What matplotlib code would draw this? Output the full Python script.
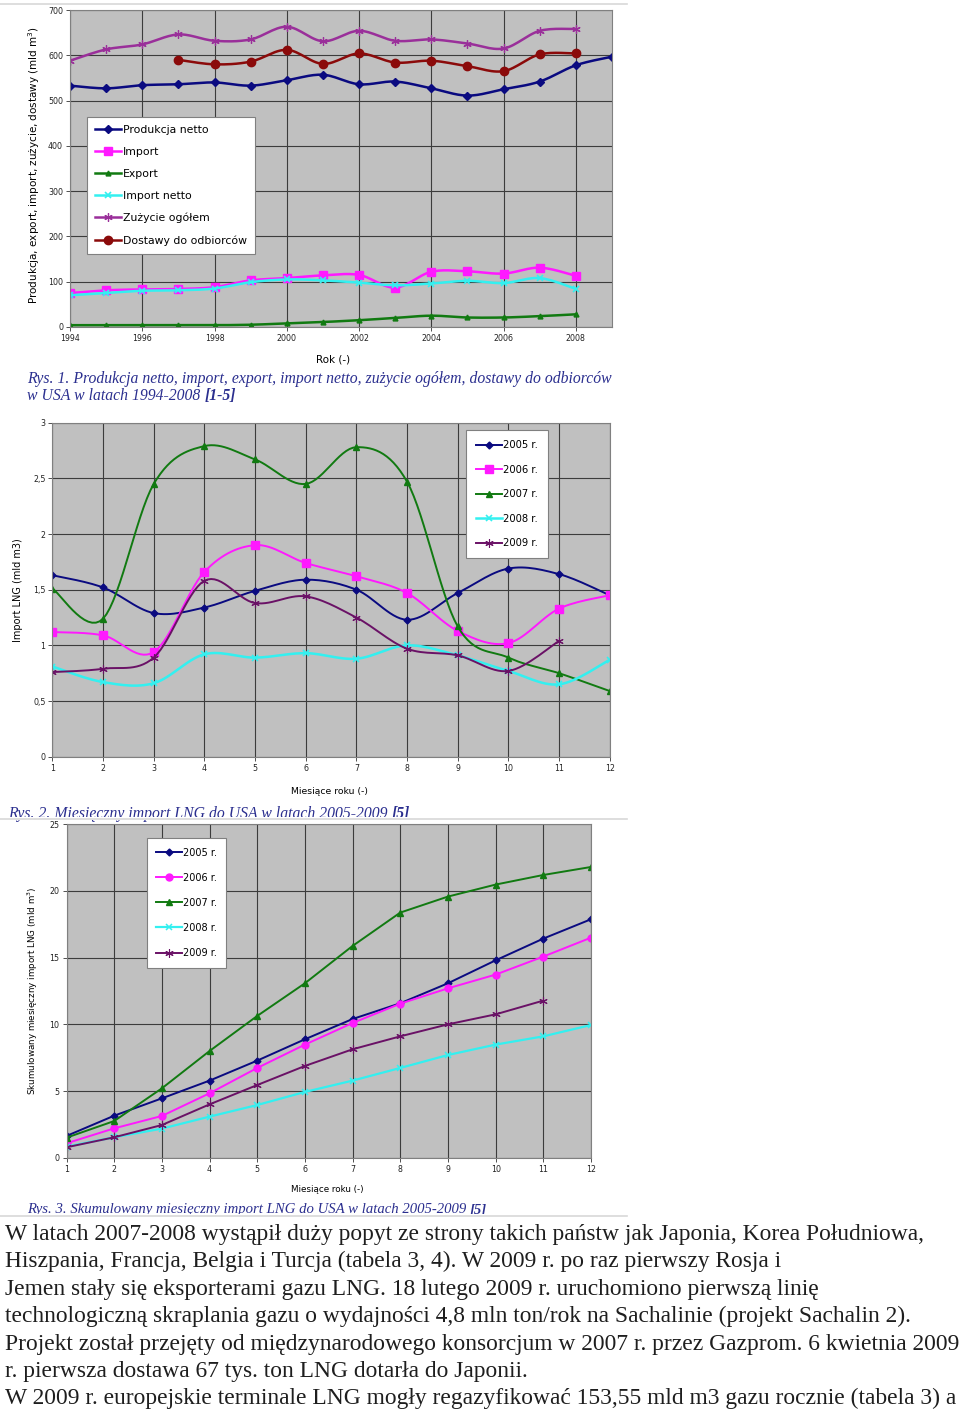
import numpy as np
import matplotlib
matplotlib.use("Agg")
import matplotlib.pyplot as plt
from matplotlib.patches import Rectangle
from matplotlib.lines import Line2D

# ---- Rys. 1 : dane roczne 1994-2009 (mld m3)
lata = list(range(1994, 2010))
produkcja_netto = [533, 527, 534, 536, 540, 533, 545, 557, 536, 542, 527, 511, 525, 542, 578, 597]
lata_08 = list(range(1994, 2009))
import_ = [75, 81, 83, 84, 88, 103, 108, 114, 115, 87, 122, 123, 118, 131, 113]
export = [4, 4, 4, 4, 4, 5, 8, 11, 15, 20, 25, 21, 21, 24, 28]
import_netto = [70, 75, 80, 81, 85, 99, 105, 103, 98, 92, 96, 102, 97, 108, 84]
zuzycie = [588, 613, 624, 646, 632, 635, 663, 631, 654, 632, 635, 626, 615, 654, 658]
lata_dost = list(range(1997, 2009))
dostawy = [590, 580, 586, 612, 581, 604, 584, 588, 576, 565, 602, 604]

# ---- Rys. 2 : miesieczny import LNG (mld m3)
miesiace = list(range(1, 13))
imp_2005 = [1.63, 1.52, 1.29, 1.34, 1.49, 1.59, 1.50, 1.23, 1.47, 1.69, 1.64, 1.45]
imp_2006 = [1.12, 1.09, 0.94, 1.66, 1.90, 1.74, 1.62, 1.47, 1.13, 1.02, 1.33, 1.45]
imp_2007 = [1.51, 1.24, 2.45, 2.79, 2.67, 2.45, 2.78, 2.47, 1.17, 0.89, 0.75, 0.59]
imp_2008 = [0.81, 0.67, 0.66, 0.92, 0.89, 0.93, 0.88, 1.00, 0.91, 0.77, 0.65, 0.87]
imp_2009 = [0.76, 0.79, 0.89, 1.58, 1.38, 1.44, 1.25, 0.97, 0.91, 0.77, 1.04]

# ---- Rys. 3 : skumulowany import LNG (mld m3)
cum_2005 = [1.63, 3.15, 4.45, 5.78, 7.28, 8.88, 10.4, 11.58, 13.08, 14.8, 16.43, 17.88]
cum_2006 = [1.08, 2.2, 3.13, 4.83, 6.73, 8.48, 10.1, 11.55, 12.7, 13.73, 15.08, 16.5]
cum_2007 = [1.5, 2.75, 5.2, 8.0, 10.63, 13.08, 15.88, 18.38, 19.58, 20.48, 21.2, 21.8]
cum_2008 = [0.83, 1.53, 2.18, 3.08, 3.95, 4.93, 5.78, 6.73, 7.7, 8.48, 9.1, 9.95]
cum_2009 = [0.78, 1.53, 2.45, 4.0, 5.45, 6.88, 8.13, 9.1, 10.0, 10.75, 11.78]

tekst = [
    "W latach 2007-2008 wystąpił duży popyt ze strony takich państw jak Japonia, Korea Południowa,",
    "Hiszpania, Francja, Belgia i Turcja (tabela 3, 4). W 2009 r. po raz pierwszy Rosja i",
    "Jemen stały się eksporterami gazu LNG. 18 lutego 2009 r. uruchomiono pierwszą linię",
    "technologiczną skraplania gazu o wydajności 4,8 mln ton/rok na Sachalinie (projekt Sachalin 2).",
    "Projekt został przejęty od międzynarodowego konsorcjum w 2007 r. przez Gazprom. 6 kwietnia 2009",
    "r. pierwsza dostawa 67 tys. ton LNG dotarła do Japonii.",
    "W 2009 r. europejskie terminale LNG mogły regazyfikować 153,55 mld m3 gazu rocznie (tabela 3) a",
]

NAVY = "#0a0a80"
MAG = "#ff19ff"
GREEN = "#117a11"
CYAN = "#33f0f0"
PURP1 = "#9a2f9a"
PURP2 = "#6a1166"
DRED = "#8b0a0a"
STAR = (6, 2, 0)
CAPC = "#2b2f8f"

N = 16


# krzywa wygladzona jak w Excelu (Bezier z punktami kontrolnymi Catmull-Rom)
def smooth(x, y, n=N):
    P = np.column_stack([x, y]).astype(float)
    Pp = np.vstack([P[0], P, P[-1]])
    t = np.linspace(0, 1, n)[1:, None]
    pts = [P[:1]]
    for i in range(len(P) - 1):
        p0, p3 = P[i], P[i + 1]
        c1 = p0 + (Pp[i + 2] - Pp[i]) / 6
        c2 = p3 - (Pp[i + 3] - Pp[i + 1]) / 6
        b = ((1 - t) ** 3) * p0 + 3 * ((1 - t) ** 2) * t * c1 + 3 * (1 - t) * t ** 2 * c2 + t ** 3 * p3
        pts.append(b)
    out = np.vstack(pts)
    return out[:, 0], out[:, 1]


def sline(ax, x, y, **kw):
    sx, sy = smooth(x, y)
    return ax.plot(sx, sy, markevery=slice(0, None, N - 1), **kw)


def style(ax):
    ax.set_facecolor("#c0c0c0")
    ax.grid(True, color="#3c3c3c", linewidth=0.8)
    ax.set_axisbelow(True)
    for s in ax.spines.values():
        s.set_color("#808080")
        s.set_linewidth(0.8)
    ax.tick_params(colors="#333333", labelcolor="#222222", length=3, width=0.6, labelsize=5.7, pad=2)


fig = plt.figure(figsize=(9.6, 14.13), dpi=100)
H = 1413.0
W = 960.0


def fx(px):
    return px / W


def fy(py):
    return 1 - py / H


# ================= Rys. 1
ax1 = fig.add_axes([fx(70), fy(327), (612 - 70) / W, (327 - 10) / H])
style(ax1)
sline(ax1, lata, produkcja_netto, color=NAVY, lw=1.8, marker="D", ms=4, label="Produkcja netto")
sline(ax1, lata_08, import_, color=MAG, lw=1.8, marker="s", ms=6, label="Import")
sline(ax1, lata_08, export, color=GREEN, lw=1.8, marker="^", ms=3.5, label="Export")
sline(ax1, lata_08, import_netto, color=CYAN, lw=1.8, marker="x", ms=5, mew=1.2, label="Import netto")
sline(ax1, lata_08, zuzycie, color=PURP1, lw=1.8, marker=STAR, ms=6, mew=0.9, label="Zużycie ogółem")
sline(ax1, lata_dost, dostawy, color=DRED, lw=1.8, marker="o", ms=6, label="Dostawy do odbiorców")
ax1.set_xlim(1994, 2009)
ax1.set_ylim(0, 700)
ax1.set_xticks(range(1994, 2009, 2))
ax1.set_yticks(range(0, 701, 100))
ax1.set_ylabel("Produkcja, export, import, zużycie, dostawy (mld m$^3$)", fontsize=7.5)
ax1.yaxis.set_label_coords(-0.052, 0.51)
ax1.set_xlabel("Rok (-)", fontsize=7.5)
ax1.xaxis.set_label_coords(0.485, -0.088)
lg = ax1.legend(loc="upper left", bbox_to_anchor=(0.031, 0.6625), fontsize=7.8, frameon=True,
                fancybox=False, edgecolor="#808080", framealpha=1, numpoints=1, handlelength=2.4,
                handletextpad=0.2, labelspacing=1.1, borderpad=0.75, borderaxespad=0)
lg.get_frame().set_linewidth(0.8)

# ================= Rys. 2
ax2 = fig.add_axes([fx(52.4), fy(756.7), (609.7 - 52.4) / W, 334 / H])
style(ax2)
sline(ax2, miesiace, imp_2005, color=NAVY, lw=1.4, marker="D", ms=3.5, label="2005 r.")
sline(ax2, miesiace, imp_2006, color=MAG, lw=1.4, marker="s", ms=5.5, label="2006 r.")
sline(ax2, miesiace, imp_2007, color=GREEN, lw=1.4, marker="^", ms=5, label="2007 r.")
sline(ax2, miesiace, imp_2008, color=CYAN, lw=1.8, marker="x", ms=5, mew=1.2, label="2008 r.")
sline(ax2, miesiace[:11], imp_2009, color=PURP2, lw=1.4, marker=STAR, ms=6, mew=0.8, label="2009 r.")
ax2.set_xlim(1, 12)
ax2.set_ylim(0, 3)
ax2.set_xticks(miesiace)
ax2.set_yticks([0, 0.5, 1, 1.5, 2, 2.5, 3])
ax2.set_yticklabels(["0", "0,5", "1", "1,5", "2", "2,5", "3"])
ax2.set_ylabel("Import LNG (mld m3)", fontsize=7)
ax2.yaxis.set_label_coords(-0.053, 0.5)
ax2.set_xlabel("Miesiące roku (-)", fontsize=6.7)
ax2.xaxis.set_label_coords(0.498, -0.091)
lg = ax2.legend(loc="upper left", bbox_to_anchor=(0.742, 0.978), fontsize=7.2, frameon=True,
                fancybox=False, edgecolor="#808080", framealpha=1, numpoints=1, handlelength=2.6,
                handletextpad=0.1, labelspacing=1.45, borderpad=1.0, borderaxespad=0)
lg.get_frame().set_linewidth(0.8)

# ================= Rys. 3
ax3 = fig.add_axes([fx(66.5), fy(1157.7), (591 - 66.5) / W, 333.4 / H])
style(ax3)
ax3.plot(miesiace, cum_2005, color=NAVY, lw=1.4, marker="D", ms=3.5, label="2005 r.")
ax3.plot(miesiace, cum_2006, color=MAG, lw=1.4, marker="o", ms=5, label="2006 r.")
ax3.plot(miesiace, cum_2007, color=GREEN, lw=1.4, marker="^", ms=5, label="2007 r.")
ax3.plot(miesiace, cum_2008, color=CYAN, lw=1.6, marker="x", ms=4.5, mew=1.1, label="2008 r.")
ax3.plot(miesiace[:11], cum_2009, color=PURP2, lw=1.4, marker=STAR, ms=6, mew=0.8, label="2009 r.")
ax3.set_xlim(1, 12)
ax3.set_ylim(0, 25)
ax3.set_xticks(miesiace)
ax3.set_yticks(range(0, 26, 5))
ax3.set_ylabel("Skumulowany miesięczny import LNG (mld m$^3$)", fontsize=6.3)
ax3.yaxis.set_label_coords(-0.0505, 0.5)
ax3.set_xlabel("Miesiące roku (-)", fontsize=6.3)
ax3.xaxis.set_label_coords(0.498, -0.082)
lg = ax3.legend(loc="upper left", bbox_to_anchor=(0.153, 0.959), fontsize=7.0, frameon=True,
                fancybox=False, edgecolor="#808080", framealpha=1, numpoints=1, handlelength=2.6,
                handletextpad=0.1, labelspacing=1.55, borderpad=1.0, borderaxespad=0)
lg.get_frame().set_linewidth(0.8)


# ================= podpisy
def caption(x, y, s, ref, size):
    t = fig.text(fx(x), fy(y), s, fontsize=size, family="Liberation Serif", style="italic",
                 color=CAPC, va="baseline", ha="left")
    if ref:
        ax1.annotate(ref, xy=(1, 0), xycoords=t, fontsize=size, family="Liberation Serif",
                     style="italic", weight="bold", color=CAPC, va="bottom", ha="left",
                     annotation_clip=False)
    return t


caption(27, 383, "Rys. 1. Produkcja netto, import, export, import netto, zużycie ogółem, dostawy do odbiorców", None, 11.3)
caption(27, 400, "w USA w latach 1994-2008 ", "[1-5]", 11.3)
caption(8, 818, "Rys. 2. Miesięczny import LNG do USA w latach 2005-2009 ", "[5]", 11.3)
caption(27, 1213, "Rys. 3. Skumulowany miesięczny import LNG do USA w latach 2005-2009 ", "[5]", 10.6)

# przyciete krawedzie zrzutow
for yy, hh in [(0, 3), (817, 3), (1214, 3)]:
    fig.add_artist(Rectangle((0, fy(yy + hh)), fx(627), hh / H, transform=fig.transFigure,
                             facecolor="white", edgecolor="none", zorder=10))
for yy in [4, 819, 1216]:
    fig.add_artist(Line2D([0, fx(627)], [fy(yy), fy(yy)], transform=fig.transFigure,
                          color="#d8d8d8", lw=1.2, zorder=11))

# ================= tekst akapitu
for i, line in enumerate(tekst):
    fig.text(fx(5), fy(1240 + 27.4 * i), line, fontsize=16.9, family="Liberation Serif",
             color="#1e1e1e", va="baseline", ha="left")

fig.savefig("out.png", dpi=100, facecolor="white")
